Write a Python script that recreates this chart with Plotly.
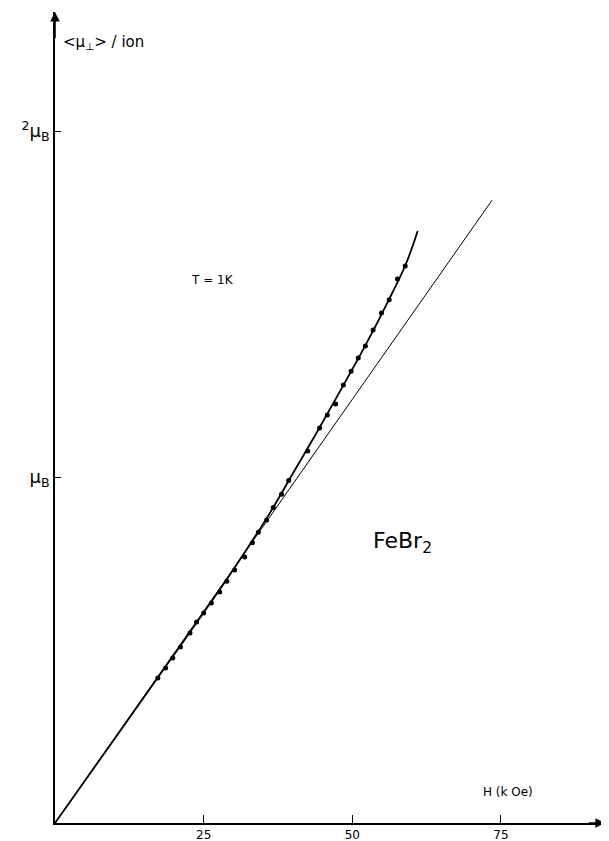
import plotly.graph_objects as go

# measured points: field H (kOe) and moment <mu_perp> per ion (mu_B)
h_points = [17.3, 18.6, 19.8, 21.1, 22.7, 23.8, 25.0, 26.3, 27.7, 28.9, 30.2, 31.9,
            33.2, 34.2, 35.6, 36.7, 38.1, 39.3, 42.5, 44.5, 45.8, 47.2, 48.5, 49.8,
            51.0, 52.2, 53.5, 54.9, 56.2, 57.6, 58.9]
m_points = [0.419, 0.448, 0.477, 0.509, 0.549, 0.581, 0.607, 0.636, 0.668, 0.699, 0.731, 0.769,
            0.810, 0.840, 0.876, 0.912, 0.950, 0.990, 1.075, 1.142, 1.179, 1.211, 1.266, 1.306,
            1.344, 1.379, 1.425, 1.474, 1.512, 1.572, 1.610]

# hand-drawn curve through the points
h_curve = [0, 10, 20, 28, 32, 36, 40, 44, 48, 52, 56, 59, 61]
m_curve = [0, 0.243, 0.486, 0.682, 0.785, 0.892, 1.01, 1.128, 1.25, 1.374, 1.507, 1.615, 1.711]

# initial-slope straight line
h_line = [0, 73.5]
m_line = [0, 1.80]

x_ticks = [25, 50, 75]
x_ticklabels = ["25", "50", "75"]
y_ticks = [1, 2]
y_ticklabels = ["μ<sub>B</sub>", "<sup>2</sup>μ<sub>B</sub>"]

X_MAX = 92.5
Y_MAX = 2.344
FONT = "DejaVu Sans"

fig = go.Figure()
fig.add_trace(go.Scatter(x=h_line, y=m_line, mode="lines",
                         line=dict(color="black", width=1), hoverinfo="skip"))
fig.add_trace(go.Scatter(x=h_curve, y=m_curve, mode="lines", line_shape="spline",
                         line=dict(color="black", width=1.8), hoverinfo="skip"))
fig.add_trace(go.Scatter(x=h_points, y=m_points, mode="markers",
                         marker=dict(color="black", size=5)))

# the page has an 8px body margin, so the figure is a bit smaller than the window
fig.update_layout(
    width=601, height=833,
    paper_bgcolor="white", plot_bgcolor="white",
    margin=dict(l=47, r=4, t=4, b=18),
    showlegend=False,
    font=dict(family=FONT, size=13, color="black"),
)
fig.update_xaxes(range=[0, X_MAX], showgrid=False, zeroline=False, automargin=False,
                 showline=True, linecolor="black", linewidth=1.6,
                 tickvals=x_ticks, ticktext=x_ticklabels,
                 ticks="inside", ticklen=8, tickwidth=1, tickcolor="black",
                 tickfont=dict(size=12))
fig.update_yaxes(range=[0, Y_MAX], showgrid=False, zeroline=False, automargin=False,
                 showline=True, linecolor="black", linewidth=1.6,
                 tickvals=y_ticks, ticktext=y_ticklabels,
                 ticks="inside", ticklen=6, tickwidth=1, tickcolor="black",
                 tickfont=dict(size=18))

# arrow heads on the axes
fig.add_annotation(x=X_MAX, y=0, ax=X_MAX - 3, ay=0, xref="x", yref="y",
                   axref="x", ayref="y", showarrow=True, arrowhead=2,
                   arrowsize=1.2, arrowwidth=1.6, arrowcolor="black", text="")
fig.add_annotation(x=0, y=Y_MAX, ax=0, ay=Y_MAX - 0.08, xref="x", yref="y",
                   axref="x", ayref="y", showarrow=True, arrowhead=2,
                   arrowsize=1.2, arrowwidth=1.6, arrowcolor="black", text="")

fig.add_annotation(x=1.0, y=2.255, xref="x", yref="y", xanchor="left", yanchor="middle",
                   text="&lt;μ<sub>⊥</sub>&gt; / ion", showarrow=False, font=dict(size=15))
fig.add_annotation(x=71.7, y=0.09, xref="x", yref="y", xanchor="left", yanchor="middle",
                   text="H (k Oe)", showarrow=False, font=dict(size=12))
fig.add_annotation(x=22.5, y=1.57, xref="x", yref="y", xanchor="left", yanchor="middle",
                   text="T = 1K", showarrow=False, font=dict(size=12))
fig.add_annotation(x=53.2, y=0.81, xref="x", yref="y", xanchor="left", yanchor="middle",
                   text="FeBr<sub>2</sub>", showarrow=False, font=dict(size=22))

fig.write_html("out.html")
